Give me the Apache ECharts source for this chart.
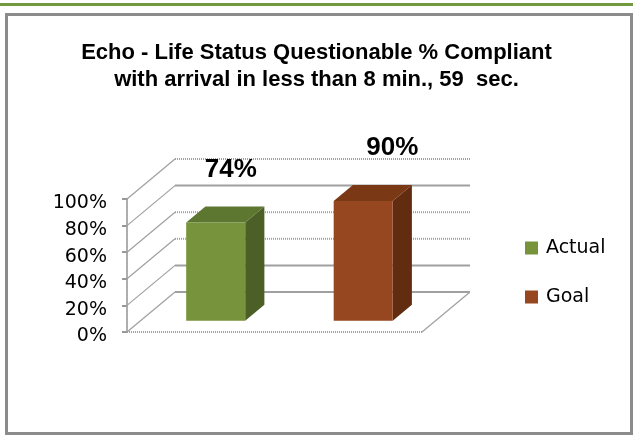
<!DOCTYPE html>
<html>
<head>
<meta charset="utf-8">
<script src="https://cdn.jsdelivr.net/npm/echarts@6/dist/echarts.min.js"></script>
<style>
  html, body { margin: 0; padding: 0; background: #fff; }
  #chart { width: 633px; height: 442px; }
</style>
</head>
<body>
<div id="chart"></div>
<script>
// data
const categories = ["Actual", "Goal"];
const seriesNames = ["Actual", "Goal"];
const values = [0.74, 0.90];
const yTicks = [0, 0.2, 0.4, 0.6, 0.8, 1.0];
const titleLines = ["Echo - Life Status Questionable % Compliant", "with arrival in less than 8 min., 59  sec."];

// 3d look: depth vector of the floor, and where the bars sit in it
const DEPTH = [48, -40];
const F1 = 0.28, F2 = 0.68;
const GRID_LINE = "#a0a0a0";
const dottedBack = [false, false, true, true, false, true];

const palette = {
  Actual: { front: "#77933c", top: "#5d7630", side: "#4b5f26", labelDx: 30 },
  Goal: { front: "#964720", top: "#7a3815", side: "#612c0f", labelDx: 44 },
};

const fmtPct = (v) => Math.round(v * 100) + "%";

function renderWalls(params, api) {
  const cs = params.coordSys;
  const xl = cs.x, xr = cs.x + cs.width;
  const [dx, dy] = DEPTH;
  const children = [];
  yTicks.forEach((t, i) => {
    const y = api.coord([0, t])[1];
    children.push({
      type: "line",
      shape: { x1: xl + dx, y1: y + dy, x2: xr + dx, y2: y + dy },
      style: { stroke: GRID_LINE, lineWidth: 2, lineDash: dottedBack[i] ? [1, 1] : null },
    });
    children.push({
      type: "line",
      shape: { x1: xl, y1: y, x2: xl + dx, y2: y + dy },
      style: { stroke: "#a0a0a0", lineWidth: 1.2 },
    });
  });
  const y0 = api.coord([0, 0])[1];
  children.push({
    type: "line",
    shape: { x1: xl, y1: y0, x2: xr, y2: y0 },
    style: { stroke: GRID_LINE, lineWidth: 2, lineDash: [1, 1] },
  });
  children.push({
    type: "line",
    shape: { x1: xr, y1: y0, x2: xr + dx, y2: y0 + dy },
    style: { stroke: "#a0a0a0", lineWidth: 1.2 },
  });
  return { type: "group", children };
}

function barRenderer(name) {
  const c = palette[name];
  return function (params, api) {
    const ci = api.value(0), v = api.value(1);
    const base = api.coord([ci, 0]);
    const top = api.coord([ci, v]);
    const bw = api.size([1, 0])[0] * 0.4;
    const fx = DEPTH[0] * F1 + 1.5, fy = DEPTH[1] * F1;
    const dx = DEPTH[0] * (F2 - F1), dy = DEPTH[1] * (F2 - F1);
    const x0 = base[0] - bw / 2 + fx, x1 = x0 + bw;
    const yb = base[1] + fy, yt = top[1] + fy;
    return {
      type: "group",
      children: [
        { type: "polygon", shape: { points: [[x1, yt], [x1 + dx, yt + dy], [x1 + dx, yb + dy], [x1, yb]] }, style: { fill: c.side } },
        { type: "polygon", shape: { points: [[x0, yt], [x1, yt], [x1 + dx, yt + dy], [x0 + dx, yt + dy]] }, style: { fill: c.top } },
        { type: "rect", shape: { x: x0, y: yt, width: bw, height: yb - yt }, style: { fill: c.front } },
        {
          type: "text",
          style: {
            text: fmtPct(v),
            x: base[0] + c.labelDx,
            y: yt - 53,
            align: "center",
            verticalAlign: "middle",
            fontSize: 26,
            fontWeight: "bold",
            fontFamily: "Liberation Sans",
            fill: "#000",
          },
        },
      ],
    };
  };
}

const chart = echarts.init(document.getElementById("chart"));
chart.setOption({
  animation: false,
  backgroundColor: "#fff",
  title: {
    text: titleLines.join("\n"),
    left: "center",
    top: 34,
    textStyle: { fontFamily: "Liberation Sans", fontSize: 22, fontWeight: "bold", color: "#000", lineHeight: 27 },
  },
  graphic: [
    { type: "rect", shape: { x: 0, y: 3, width: 633, height: 3 }, style: { fill: "#72993d" } },
    { type: "rect", shape: { x: 6.5, y: 14.5, width: 625, height: 419 }, style: { fill: null, stroke: "#8b8b8b", lineWidth: 3 } },
  ],
  legend: {
    orient: "vertical",
    left: 525,
    top: 237,
    padding: 0,
    icon: "rect",
    itemWidth: 13,
    itemHeight: 13,
    itemGap: 27,
    data: seriesNames,
    textStyle: { fontFamily: "DejaVu Sans", fontSize: 19, color: "#000", lineHeight: 20, padding: [2, 0, 0, 3] },
  },
  grid: { left: 127, top: 199, width: 295, height: 133 },
  xAxis: { type: "category", data: categories, show: false },
  yAxis: {
    type: "value",
    min: 0,
    max: 1,
    interval: 0.2,
    axisLine: { show: true, lineStyle: { color: "#aaa", width: 2, type: [1, 1] } },
    axisTick: { show: true, length: 5, lineStyle: { color: "#999", width: 2 } },
    splitLine: { show: false },
    axisLabel: {
      formatter: fmtPct,
      margin: 20,
      fontFamily: "DejaVu Sans",
      fontSize: 19,
      color: "#000",
      verticalAlign: "top",
      lineHeight: 9,
    },
  },
  series: [
    { type: "custom", silent: true, z: 1, renderItem: renderWalls, data: [[0, 0]] },
    ...seriesNames.map((name, i) => ({
      type: "custom",
      name,
      z: 3,
      itemStyle: { color: palette[name].front },
      renderItem: barRenderer(name),
      data: [[i, values[i]]],
    })),
  ],
});
</script>
</body>
</html>
